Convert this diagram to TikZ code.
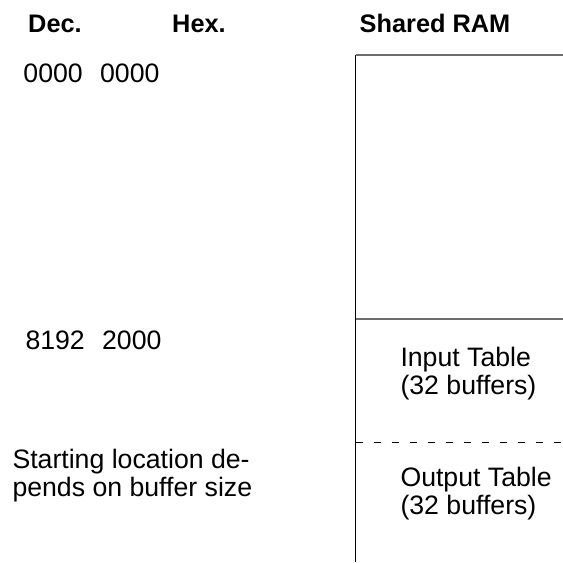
\documentclass[tikz,border=0pt]{standalone}
\usepackage{fontspec}
\setmainfont{Liberation Sans}

\tikzset{every picture/.style={line width=0.75pt}}
\tikzset{
  memtext/.style={anchor=base west,inner sep=0pt,align=left,font=\fontsize{20}{20.5}\selectfont},
  headtext/.style={anchor=base,inner sep=0pt,font=\fontsize{19}{20.5}\selectfont\bfseries}
}

\begin{document}
\begin{tikzpicture}[x=0.75pt,y=0.75pt,yscale=-1,xscale=1]
	\useasboundingbox (0,0) rectangle (563,562); %set diagram left start at 0, and has height of 562
	
	%Coordinates of the RAM column
	\coordinate (ramtop) at (355.5,55);
	\coordinate (ramright) at (563,55);
	\coordinate (rambottom) at (355.5,562);
	\coordinate (inleft) at (355.5,319);
	\coordinate (inright) at (563,319);
	\coordinate (outleft) at (355.5,442);
	\coordinate (outright) at (563,442);
	
	%Straight Lines [top of RAM]
	\draw [color={rgb, 255:red, 110; green, 110; blue, 110},line width=1pt] (ramtop) -- (ramright) ;
	%Straight Lines [left side of RAM]
	\draw [line width=1.2pt] (ramtop) -- (rambottom) ;
	%Straight Lines [start of input table]
	\draw [color={rgb, 255:red, 110; green, 110; blue, 110},line width=1pt] (inleft) -- (inright) ;
	%Straight Lines [start of output table]
	\draw [dash pattern={on 5.25pt off 8.25pt}] (outleft) -- (outright) ;
	
	% Text Node
	\node [headtext] (dec) at (55,32) {Dec.};
	% Text Node
	\node [headtext] (hex) at (199,32) {Hex.};
	% Text Node
	\node [headtext] (ram) at (435,32) {Shared RAM};
	% Text Node
	\node [memtext] (addr0) at (23,82) {0000\hspace{0.65em}0000};
	% Text Node
	\node [memtext] (addr1) at (25,349) {8192\hspace{0.65em}2000};
	% Text Node (anchored on the baseline of its last line)
	\node [memtext] (intable) at (400,394) {Input Table\\(32 buffers)};
	% Text Node
	\node [memtext] (outtable) at (400,514) {Output Table\\(32 buffers)};
	% Text Node
	\node [memtext] (startloc) at (12,496) {Starting location de-\\pends on buffer size};
	
\end{tikzpicture}
\end{document}
